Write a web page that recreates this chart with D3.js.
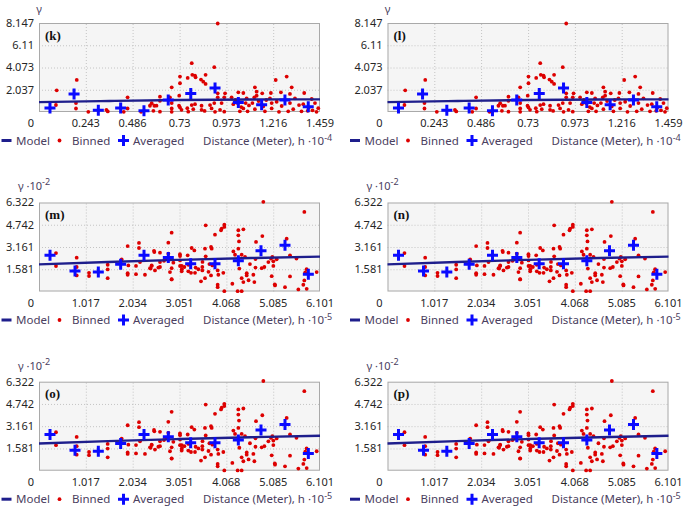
<!DOCTYPE html>
<html><head><meta charset="utf-8">
<script src="https://cdn.jsdelivr.net/npm/d3@7"></script>
<style>
body{margin:0;background:#fff}
svg{display:block}
</style>
</head><body>
<svg id="chart" width="685" height="507" font-family="'Noto Sans', sans-serif"></svg>
<script>
// ---------- Data: panels k / l (h ·10^-4) ----------
const kBinnedH = [0.092,0.088,0.196,0.192,0.192,0.256,0.350,0.357,0.46,0.46,0.44,0.53,0.576,0.599,0.594,0.628,0.628,0.628,0.689,0.680,0.689,0.689,0.689,0.728,0.727,
0.928,0.793,0.910,0.732,0.732,0.772,0.796,0.810,0.813,0.841,0.853,0.865,0.865,0.928,0.928,0.966,0.962,0.948,
0.732,0.793,0.801,0.810,0.844,0.844,0.775,0.888,0.896,0.910,0.914,0.940,0.962,
1.000,1.009,1.035,1.031,1.061,1.061,1.073,1.078,1.083,1.108,1.118,1.121,1.130,1.130,1.159,1.164,1.173,1.204,1.199,1.208,1.208,1.229,1.256,1.234,1.246,1.286,1.303,1.312,1.303,1.320,1.329,1.350,1.377,1.372,1.395,1.416,1.433,1.441,1.294,1.363,1.121,1.043,
1.02,1.05,1.09,1.14,1.18,1.26,1.40,1.45,1.42,0.74,0.77,0.86,0.585,0.61];
const kBinnedG = [1.98,0.64,2.94,0.82,0.32,0.02,0.20,0.05,1.34,0.32,0.02,0.02,0.57,0.57,0.11,1.40,1.03,0.03,2.26,1.34,0.82,0.32,0.02,1.49,0.57,
8.10,4.47,4.10,3.24,2.63,3.12,3.40,3.33,3.18,2.97,2.78,3.40,2.57,1.71,1.34,1.71,1.34,0.82,
0.42,0.63,0.26,0.72,0.57,0.20,0.03,0.63,0.33,0.82,0.02,0.20,0.03,
1.34,0.72,1.80,0.82,1.74,0.33,0.82,1.25,0.06,0.82,1.34,2.26,1.86,1.49,1.71,0.51,0.06,1.74,1.25,0.82,0.33,2.93,1.80,0.94,0.02,3.24,1.65,2.26,0.82,0.26,1.25,0.63,1.74,0.72,0.11,1.19,0.82,0.02,0.06,0.06,0.26,0.06,
1.10,0.45,0.60,1.00,1.10,0.55,0.40,0.35,0.15,0.20,0.35,0.10,0.80,0.58];
const kAvgH = [0.057,0.182,0.308,0.424,0.545,0.671,0.788,0.914,1.035,1.156,1.277,1.398];
const kAvgG = [0.36,1.65,0.17,0.36,0.11,1.10,1.70,2.20,0.88,0.66,1.10,0.48];
const kModelH = [0, 0.365, 0.73, 1.1, 1.459];
const kModelG = [0.90, 1.01, 1.10, 1.14, 1.16];
const kXTicks = ["0.243","0.486","0.73","0.973","1.216","1.459"];
const kYTicks = ["2.037","4.073","6.11","8.147"];

// ---------- Data: panels m / n / o / p (h ·10^-5, γ ·10^-2) ----------
const mBinnedH = [0.369,0.369,0.818,0.818,0.818,1.086,1.086,1.491,1.491,1.491,1.795,1.925,1.940,1.925,2.171,2.171,2.193,2.301,2.410,2.446,2.504,2.627,2.627,2.627,2.518,2.772,2.808,2.808,2.880,2.844,2.880,2.880,
1.925,2.106,2.106,2.497,2.446,2.424,2.591,2.714,2.880,2.917,3.06,3.10,3.10,
4.871,5.761,3.619,4.024,4.024,3.966,3.952,3.821,3.062,3.062,3.062,3.228,3.315,3.373,3.619,3.735,3.749,3.604,3.242,3.242,3.300,3.387,3.546,3.546,3.604,3.735,3.764,3.879,3.894,3.879,3.879,4.002,4.024,4.198,4.328,4.328,4.342,4.328,4.437,4.313,4.400,4.220,4.256,4.400,4.473,4.509,4.437,4.654,4.676,4.712,4.849,4.835,4.893,4.980,5.037,5.066,5.088,5.052,5.124,5.377,5.450,5.450,5.341,5.631,5.761,5.739,6.029,5.812,3.098,3.156,3.517,
5.088,5.16,5.12,5.59,5.81,5.78,3.40,3.46,3.55,3.68,3.70,4.35,4.40,4.51,4.55,4.58,4.70,4.70];
const mBinnedG = [2.73,1.81,2.40,1.74,1.14,1.33,1.10,1.90,1.57,0.95,2.28,3.23,1.85,1.19,3.45,3.09,2.09,1.19,1.66,1.85,2.80,2.76,2.09,1.74,1.50,2.33,2.69,3.47,4.18,1.38,1.66,0.86,
1.30,1.82,1.23,2.89,1.82,1.63,1.70,2.18,0.87,2.05,2.65,1.82,1.58,
6.37,5.65,4.70,4.75,4.59,4.47,4.35,4.04,2.52,2.21,1.81,2.57,3.09,2.92,2.50,3.16,3.04,3.04,1.90,1.43,1.33,1.33,1.74,1.50,0.95,1.14,1.85,1.50,1.19,0.48,0.31,1.33,0.02,0.55,4.35,3.99,3.56,3.04,4.42,0.02,0.02,2.85,2.61,2.61,2.45,1.14,0.67,1.19,0.67,3.52,3.94,1.66,1.74,2.09,2.33,2.45,2.14,1.09,0.43,3.75,2.57,1.07,0.31,0.15,0.79,0.48,1.38,0.19,1.43,1.74,0.72,
1.82,2.29,0.51,2.34,1.58,1.35,1.70,1.58,2.10,1.40,1.95,1.63,0.95,1.30,0.80,1.95,2.30,1.70];
const mAvgH = [0.239,0.782,1.288,1.773,2.280,2.808,3.293,3.821,4.328,4.820,5.341,5.848];
const mAvgG = [2.58,1.46,1.39,1.94,2.58,2.41,1.98,1.98,2.18,2.89,3.29,1.23];
const mModelH = [0, 1.5, 3.05, 4.6, 6.101];
const mModelG = [1.93, 2.10, 2.25, 2.38, 2.48];
const mXTicks = ["1.017","2.034","3.051","4.068","5.085","6.101"];
const mYTicks = ["1.581","3.161","4.742","6.322"];

const panelLabels = ["(k)","(l)","(m)","(n)","(o)","(p)"];
const legendNames = ["Model","Binned","Averaged"];
const xAxisTitle = "Distance (Meter), h \u00B710";

const sets = {
  k: {bh:kBinnedH, bg:kBinnedG, ah:kAvgH, ag:kAvgG, mh:kModelH, mg:kModelG, xt:kXTicks, yt:kYTicks, xmax:1.459, ymax:8.147, xexp:"-4", yexp:null},
  m: {bh:mBinnedH, bg:mBinnedG, ah:mAvgH, ag:mAvgG, mh:mModelH, mg:mModelG, xt:mXTicks, yt:mYTicks, xmax:6.101, ymax:6.322, xexp:"-5", yexp:"-2"}
};

// ---------- Layout ----------
const colLeft = [39, 387.5];
const rowTop = [23, 202.5, 381.7];
const W = 281, H = 89;
const C = {
  bg:"#f5f5f5", border:"#a9a9a9", grid:"#c4c4c4", model:"#1e1e8c",
  avg:"#0a0aff", bin:"#dd0000", tick:"#262626", legend:"#4a4060"
};

const svg = d3.select("#chart");
svg.append("rect").attr("width",685).attr("height",507).attr("fill","#fff");

panelLabels.forEach((lab, i) => {
  const row = Math.floor(i/2), col = i%2;
  const S = sets[row === 0 ? "k" : "m"];
  const x0 = colLeft[col], y0 = rowTop[row];
  const x = d3.scaleLinear().domain([0, S.xmax]).range([x0, x0+W]);
  const y = d3.scaleLinear().domain([0, S.ymax]).range([y0+H, y0]);
  const g = svg.append("g");

  g.append("rect").attr("x",x0).attr("y",y0).attr("width",W).attr("height",H).attr("fill",C.bg);

  // grid lines via axes
  const xv = S.xt.map(Number), yv = S.yt.map(Number);
  g.append("g").attr("transform",`translate(0,${y0+H})`)
    .call(d3.axisBottom(x).tickValues(xv.slice(0,-1)).tickSize(-H).tickFormat(""))
    .call(a => { a.select(".domain").remove();
      a.selectAll("line").attr("stroke",C.grid).attr("stroke-dasharray","1,2"); });
  g.append("g").attr("transform",`translate(${x0},0)`)
    .call(d3.axisLeft(y).tickValues(yv.slice(0,-1)).tickSize(-W).tickFormat(""))
    .call(a => { a.select(".domain").remove();
      a.selectAll("line").attr("stroke",C.grid).attr("stroke-dasharray","1,2"); });

  // border
  g.append("rect").attr("x",x0+0.5).attr("y",y0+0.5).attr("width",W-1).attr("height",H-1)
    .attr("fill","none").attr("stroke",C.border);

  // binned points
  g.append("g").selectAll("circle").data(S.bh.map((h,j)=>[h,S.bg[j]])).join("circle")
    .attr("cx",d=>x(d[0])).attr("cy",d=>y(d[1])).attr("r",1.9).attr("fill",C.bin);

  // model line
  const line = d3.line().x(d=>x(d[0])).y(d=>y(d[1])).curve(d3.curveMonotoneX);
  g.append("path").datum(S.mh.map((h,j)=>[h,S.mg[j]])).attr("d",line)
    .attr("fill","none").attr("stroke",C.model).attr("stroke-width",2.4);

  // averaged crosses
  const cr = 5.5;
  g.append("g").selectAll("path").data(S.ah.map((h,j)=>[h,S.ag[j]])).join("path")
    .attr("d",d=>{const cx=x(d[0]), cy=y(d[1]);
      return `M${cx-cr},${cy}H${cx+cr}M${cx},${cy-cr}V${cy+cr}`;})
    .attr("stroke",C.avg).attr("stroke-width",3).attr("fill","none");

  // tick labels
  g.append("g").selectAll("text").data(S.yt).join("text")
    .attr("x",x0-5).attr("y",d=>y(+d)).attr("dy","0.35em").attr("text-anchor","end")
    .attr("font-size",11).attr("fill",C.tick).text(d=>d);
  g.append("g").selectAll("text").data(S.xt).join("text")
    .attr("x",d=>x(+d)).attr("y",y0+H+11.5).attr("dy","0.35em").attr("text-anchor","middle")
    .attr("font-size",11).attr("fill",C.tick).text(d=>d);
  g.append("text").attr("x",x0-5).attr("y",y0+H+11.5).attr("dy","0.35em").attr("text-anchor","end")
    .attr("font-size",11).attr("fill",C.tick).text("0");

  // y title
  if (S.yexp) {
    const t = g.append("text").attr("x",x0-21).attr("y",y0-16).attr("dy","0.35em")
      .attr("font-size",11).attr("fill",C.legend);
    t.append("tspan").text("\u03B3 \u00B710");
    t.append("tspan").attr("dy","-5").attr("font-size",9).text(S.yexp);
  } else {
    g.append("text").attr("x",x0).attr("y",y0-14).attr("dy","0.35em").attr("text-anchor","middle")
      .attr("font-size",11).attr("fill",C.legend).text("\u03B3");
  }

  // panel label
  g.append("text").attr("x",x0+6).attr("y",y0+12).attr("dy","0.35em")
    .style("font-family","'Liberation Serif', serif").attr("font-weight","bold")
    .attr("font-size",13).attr("fill","#111").text(lab);

  // legend
  const lx = x0 - 39, ly = y0 + H + 28.5;
  g.append("line").attr("x1",lx+1.5).attr("x2",lx+11.5).attr("y1",ly).attr("y2",ly)
    .attr("stroke",C.model).attr("stroke-width",3);
  g.append("circle").attr("cx",lx+59.5).attr("cy",ly).attr("r",1.9).attr("fill",C.bin);
  g.append("path").attr("d",`M${lx+118},${ly}H${lx+129}M${lx+123.5},${ly-5.5}V${ly+5.5}`)
    .attr("stroke",C.avg).attr("stroke-width",3);
  [[16,legendNames[0]],[72,legendNames[1]],[133,legendNames[2]]].forEach(([dx,s])=>{
    g.append("text").attr("x",lx+dx).attr("y",ly).attr("dy","0.35em")
      .attr("font-size",11.5).attr("fill",C.legend).text(s);
  });
  const dt = g.append("text").attr("x",lx+203).attr("y",ly).attr("dy","0.35em")
    .attr("font-size",11.5).attr("fill",C.legend);
  dt.append("tspan").text(xAxisTitle);
  dt.append("tspan").attr("dy","-4").attr("font-size",9).text(S.xexp);
});
</script>
</body></html>
